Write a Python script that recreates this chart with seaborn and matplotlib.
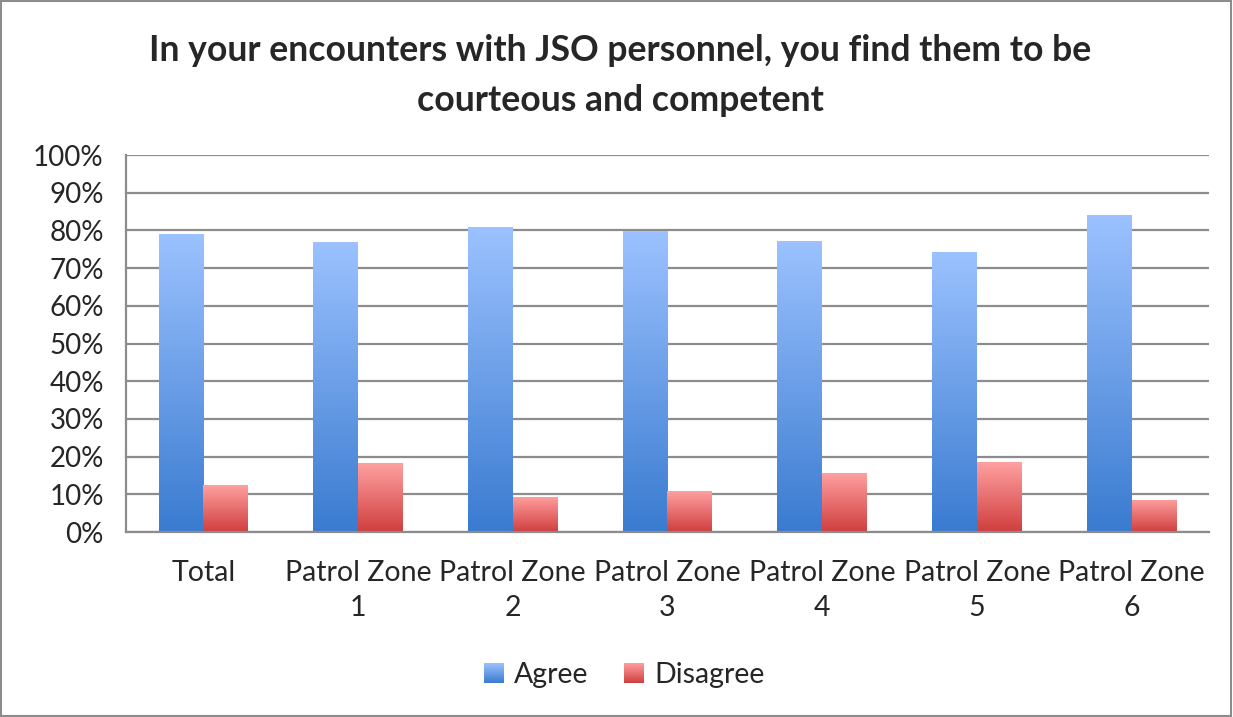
import matplotlib
matplotlib.use("Agg")
import matplotlib.pyplot as plt
from matplotlib.colors import LinearSegmentedColormap
from matplotlib.patches import Rectangle, Patch
from matplotlib.image import BboxImage
from matplotlib.transforms import Bbox, TransformedBbox
from matplotlib.legend_handler import HandlerBase
import numpy as np
import pandas as pd
import seaborn as sns

categories = ["Total", "Patrol Zone\n1", "Patrol Zone\n2", "Patrol Zone\n3",
              "Patrol Zone\n4", "Patrol Zone\n5", "Patrol Zone\n6"]
agree = [79.1, 77.0, 81.0, 79.9, 77.2, 74.3, 84.1]
disagree = [12.4, 18.3, 9.3, 10.8, 15.6, 18.5, 8.5]
series = ["Agree", "Disagree"]

df = pd.DataFrame({
    "category": categories * 2,
    "value": agree + disagree,
    "series": ["Agree"] * len(categories) + ["Disagree"] * len(categories),
})

# dark bottom -> light top, like the office gradient fill
grads = {
    "Agree": ("#3a7bd0", "#9cc2ff"),
    "Disagree": ("#d03e3e", "#ffa0a0"),
}
cmaps = {k: LinearSegmentedColormap.from_list(k, v) for k, v in grads.items()}
grad = np.linspace(0, 1, 256).reshape(-1, 1)


class HandlerGradient(HandlerBase):
    def create_artists(self, legend, orig_handle, xdescent, ydescent,
                       width, height, fontsize, trans):
        size = height * 1.1
        bb = Bbox.from_bounds(-xdescent + (width - size) / 2, -ydescent + (height - size) / 2,
                              size, size)
        img = BboxImage(TransformedBbox(bb, trans), cmap=cmaps[orig_handle.get_label()],
                        origin="lower", interpolation="bilinear")
        img.set_data(grad)
        return [img]


sns.set_style("white")
plt.rcParams["font.family"] = ["Lato", "DejaVu Sans"]

fig = plt.figure(figsize=(12.33, 7.17), dpi=100)
ax = fig.add_axes([0.1022, 0.258, 0.8783, 0.5258])

sns.barplot(data=df, x="category", y="value", hue="series", hue_order=series,
            width=0.58, palette=["#6b9fe8", "#e87070"], ax=ax, legend=False)

# paint gradients into each bar
n = len(categories)
for i, bar in enumerate(ax.patches[:2 * n]):
    name = series[i // n]
    x0, y0 = bar.get_x(), bar.get_y()
    w, h = bar.get_width(), bar.get_height()
    im = ax.imshow(grad, cmap=cmaps[name], aspect="auto", origin="lower",
                   extent=[x0, x0 + w, y0, y0 + h], zorder=2)
    im.set_clip_path(bar)
    bar.set_facecolor("none")
    bar.set_edgecolor("none")

ax.set_ylim(0, 100)
ax.set_xlim(-0.5, n - 0.5)

ax.set_yticks(range(0, 101, 10))
ax.set_yticklabels([f"{v}%" for v in range(0, 101, 10)])
ax.yaxis.grid(True, color="#8c8c8c", linewidth=1.6)
ax.set_axisbelow(True)

ax.set_xticks(range(n))
ax.set_xticklabels(categories, linespacing=1.45)
ax.set_xticks(np.arange(-0.5, n, 1), minor=True)
ax.tick_params(axis="x", which="major", length=0, pad=20, labelsize=20.5)
ax.tick_params(axis="x", which="minor", length=10, width=1.3, color="#8c8c8c", direction="out")
ax.tick_params(axis="y", length=9, width=1.3, color="#8c8c8c", direction="out", pad=7, labelsize=20)
ax.set_xlabel("")
ax.set_ylabel("")

for side in ["top", "right"]:
    ax.spines[side].set_visible(False)
for side in ["left", "bottom"]:
    ax.spines[side].set_color("#8c8c8c")
    ax.spines[side].set_linewidth(1.6)

fig.suptitle("In your encounters with JSO personnel, you find them to be\ncourteous and competent",
             x=0.503, y=0.952, fontsize=25.6, fontweight="bold", linespacing=1.62)

handles = [Patch(label="Agree"), Patch(label="Disagree")]
fig.legend(handles=handles, loc="center", bbox_to_anchor=(0.507, 0.058), ncol=2,
           frameon=False, fontsize=20.5, handlelength=0.6, handleheight=0.6,
           handletextpad=0.4, columnspacing=1.3,
           handler_map={Patch: HandlerGradient()})

fig.patches.append(Rectangle((0.001, 0.001), 0.997, 0.997, transform=fig.transFigure,
                             fill=False, edgecolor="#8c8c8c", linewidth=1.5))

fig.savefig("out.png", dpi=100)
